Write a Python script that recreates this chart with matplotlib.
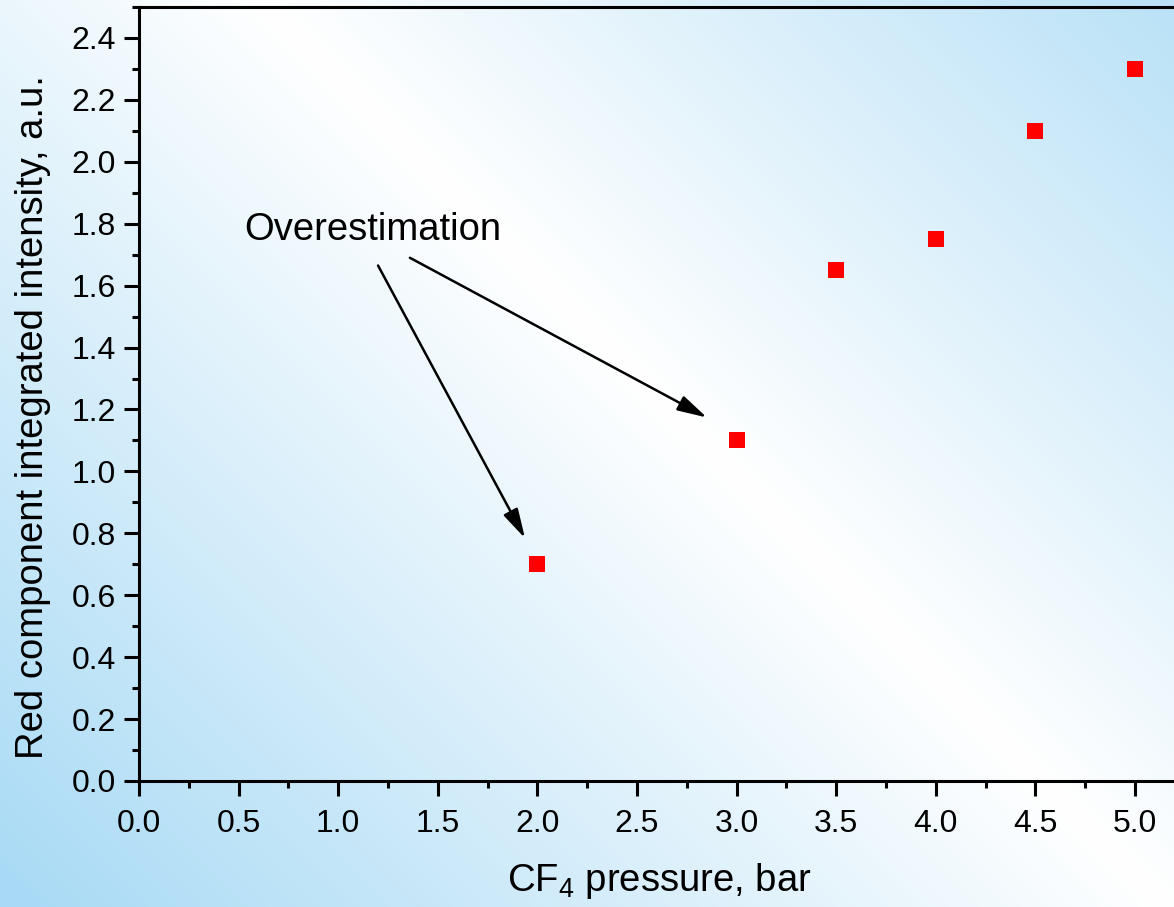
import numpy as np
import matplotlib
matplotlib.use("Agg")
import matplotlib.pyplot as plt
from matplotlib.ticker import MultipleLocator, FormatStrFormatter

plt.rcParams['font.family'] = ['Liberation Sans', 'DejaVu Sans']
plt.rcParams['mathtext.fontset'] = 'custom'
plt.rcParams['mathtext.rm'] = 'Liberation Sans'
plt.rcParams['mathtext.it'] = 'Liberation Sans'

# CF4 pressure (bar) vs red component integrated intensity (a.u.)
pressure = [2.0, 3.0, 3.5, 4.0, 4.5, 5.0]
intensity = [0.70, 1.10, 1.65, 1.75, 2.10, 2.30]

note_text = "Overestimation"
note_xy = (0.53, 1.748)
arrow_tails = [(1.20, 1.665), (1.36, 1.690)]
arrow_heads = [(1.938, 0.784), (2.851, 1.174)]

W, H = 1174, 907
fig = plt.figure(figsize=(W / 100, H / 100), dpi=100)

# diagonal blue-white-blue background
bg = fig.add_axes([0, 0, 1, 1], zorder=-10)
px, py = np.meshgrid(np.arange(W), np.arange(H))
t = np.clip(np.abs(px - py - 260) / 1150.0, 0, 1)[..., None]
white = np.array([1.0, 1.0, 1.0])
blue = np.array([168, 218, 245]) / 255.0
bg.imshow(white * (1 - t) + blue * t, aspect='auto', interpolation='bilinear')
bg.axis('off')

ax = fig.add_axes([139 / W, 1 - 781 / H, 1 - 139 / W, (781 - 7) / H])
ax.set_facecolor('none')

ax.plot(pressure, intensity, 's', color='#ff0000', markersize=11.5, markeredgewidth=0)

ax.text(note_xy[0], note_xy[1], note_text, fontsize=27.5, va='baseline', ha='left')
for tail, head in zip(arrow_tails, arrow_heads):
    ax.annotate('', xy=head, xytext=tail,
                arrowprops=dict(arrowstyle='-|>,head_length=0.9,head_width=0.24',
                                color='k', lw=1.8, mutation_scale=20,
                                shrinkA=0, shrinkB=0))

ax.set_xlim(0, 5.196)
ax.set_ylim(0, 2.5)
ax.xaxis.set_major_locator(MultipleLocator(0.5))
ax.xaxis.set_minor_locator(MultipleLocator(0.25))
ax.yaxis.set_major_locator(MultipleLocator(0.2))
ax.yaxis.set_minor_locator(MultipleLocator(0.1))
ax.xaxis.set_major_formatter(FormatStrFormatter('%.1f'))
ax.yaxis.set_major_formatter(FormatStrFormatter('%.1f'))

for s in ['left', 'bottom', 'top']:
    ax.spines[s].set_linewidth(2.2)
ax.spines['right'].set_visible(False)
ax.tick_params(which='major', direction='out', length=10.5, width=2.2, labelsize=23, pad=6)
ax.tick_params(which='minor', direction='out', length=5, width=2.2)
ax.tick_params(axis='x', which='major', pad=10)
ax.tick_params(top=False, right=False, which='both')

ax.set_xlabel('CF$_4$ pressure, bar', fontsize=27.5)
ax.set_ylabel('Red component integrated intensity, a.u.', fontsize=27.5)
ax.xaxis.set_label_coords(0.503, -0.103)
ax.yaxis.set_label_coords(-0.085, 0.47)

fig.savefig('out.png', dpi=100)
